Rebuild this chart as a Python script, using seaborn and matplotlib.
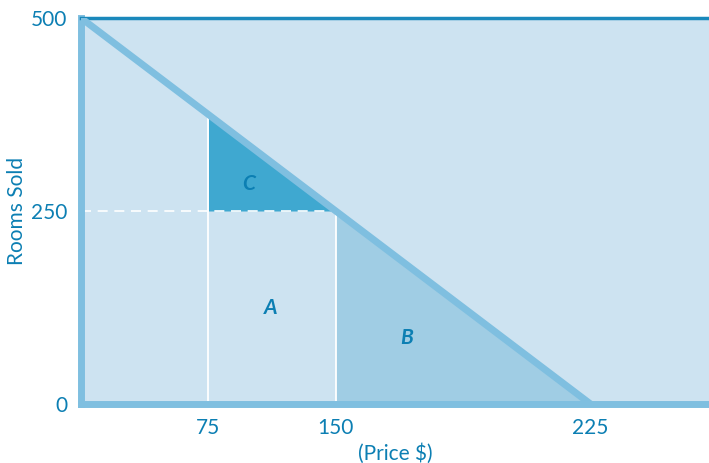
import matplotlib
matplotlib.use('Agg')
import matplotlib.pyplot as plt
import seaborn as sns
import pandas as pd

# price tick labels and where they sit on the (schematic) axis
price_labels = ['75', '150', '225']
price_pos = [1, 2, 4]
rooms_ticks = [0, 250, 500]

# demand line: rooms sold vs axis position
demand = pd.DataFrame({'pos': [0, 1, 2, 4], 'rooms': [500, 375, 250, 0]})

# area labels
area_names = ['A', 'B', 'C']
area_x = [1.49, 2.56, 1.32]
area_y = [125, 85, 285]

txt = '#0c7fb3'
bg = '#cde3f1'
line_c = '#7fbfe0'

sns.set_style('white')
plt.rcParams['font.family'] = ['Lato', 'DejaVu Sans']

fig = plt.figure(figsize=(7.09, 4.63), dpi=100)
ax = fig.add_axes([81 / 709, 1 - 404 / 463, 628 / 709, 386 / 463])
ax.set_xlim(0, 4.93)
ax.set_ylim(0, 500)
ax.set_facecolor(bg)

p = demand['pos'].values
r = demand['rooms'].values

# B: under the demand line between 150 and 225
ax.fill_between(p[2:], r[2:], 0, color='#a0cde4', lw=0)
# C: triangle between 75 and 150 above 250
ax.fill_between(p[1:3], r[1:3], r[2], color='#3fa8d0', lw=0)

# white guide lines
ax.vlines(p[1], 0, r[1], color='white', lw=1.3)
ax.vlines(p[2], 0, r[2], color='white', lw=1.3)
ax.hlines(r[2], 0, p[2], color='white', lw=1.2, linestyles=(0, (6, 4)))

sns.lineplot(data=demand, x='pos', y='rooms', ax=ax, color=line_c, lw=5,
             solid_capstyle='butt', zorder=4)

for name, x, y in zip(area_names, area_x, area_y):
    ax.text(x, y, name, color=txt, fontsize=15, fontweight='bold',
            fontstyle='italic', ha='center', va='center')

ax.spines['right'].set_visible(False)
ax.spines['top'].set_color('#1a88bb')
ax.spines['top'].set_linewidth(2.5)
ax.spines['left'].set_color(line_c)
ax.spines['left'].set_linewidth(5)
ax.spines['bottom'].set_color(line_c)
ax.spines['bottom'].set_linewidth(5)

ax.set_xticks(price_pos)
ax.set_xticklabels(price_labels)
ax.set_yticks(rooms_ticks)
ax.set_yticklabels([str(v) for v in rooms_ticks])
ax.tick_params(length=0, colors=txt, labelsize=15)
ax.tick_params(axis='x', pad=10)
ax.tick_params(axis='y', pad=10)

ax.set_xlabel('(Price $)', color=txt, fontsize=15, labelpad=4)
ax.set_ylabel('Rooms Sold', color=txt, fontsize=15)
ax.yaxis.set_label_coords(-0.086, 0.5)

fig.savefig('out.png', dpi=100)
